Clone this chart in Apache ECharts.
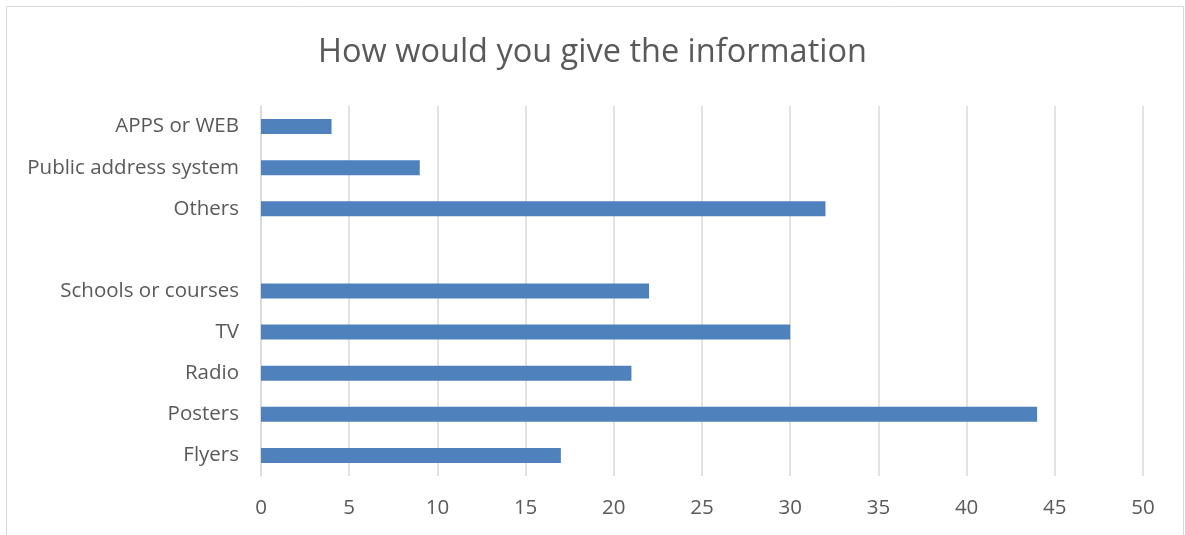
<!DOCTYPE html>
<html>
<head>
<meta charset="utf-8">
<script src="https://cdn.jsdelivr.net/npm/echarts@6/dist/echarts.min.js"></script>
<style>
  html, body { margin: 0; padding: 0; background: #fff; }
  #chart { width: 1185px; height: 535px; }
</style>
</head>
<body>
<div id="chart"></div>
<script>
// Categories listed bottom to top; the empty entry leaves a gap row
const categories = ['Flyers', 'Posters', 'Radio', 'TV', 'Schools or courses', '', 'Others', 'Public address system', 'APPS or WEB'];
const values = [17, 44, 21, 30, 22, null, 32, 9, 4];
const titleText = 'How would you give the information';

const chart = echarts.init(document.getElementById('chart'));
const fontFamily = '"Open Sans", "Noto Sans", sans-serif';

chart.setOption({
  animation: false,
  graphic: [{
    type: 'rect',
    shape: { x: 6.5, y: 6.5, width: 1177, height: 540 },
    style: { fill: 'none', stroke: '#D9D9D9', lineWidth: 1 },
    silent: true
  }],
  title: {
    text: titleText,
    left: 'center',
    top: 31,
    textStyle: { fontFamily, fontSize: 32.5, fontWeight: 'normal', color: '#595959' }
  },
  grid: { left: 261, right: 42, top: 106, bottom: 59 },
  xAxis: {
    type: 'value',
    min: 0,
    max: 50,
    interval: 5,
    axisLine: { show: false },
    axisTick: { show: false },
    splitLine: { lineStyle: { color: '#D9D9D9', width: 1.5 } },
    axisLabel: { fontFamily, fontSize: 20.5, color: '#595959', margin: 22 }
  },
  yAxis: {
    type: 'category',
    data: categories,
    axisLine: { show: true, lineStyle: { color: '#D9D9D9', width: 1.5 } },
    axisTick: { show: false },
    axisLabel: { fontFamily, fontSize: 20.5, color: '#595959', margin: 22 }
  },
  series: [{
    type: 'bar',
    data: values,
    barWidth: 15,
    itemStyle: { color: '#4F81BD' }
  }]
});
</script>
</body>
</html>
